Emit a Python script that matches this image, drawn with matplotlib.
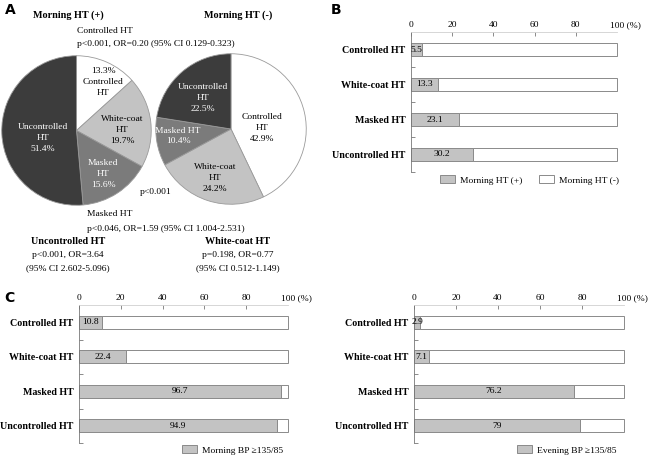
import matplotlib.pyplot as plt
from matplotlib.patches import Patch

plt.rcParams['font.family'] = ['Liberation Serif', 'DejaVu Serif']

W, H = 648, 458

# panel A data
pie_labels_pos = ['13.3%\nControlled\nHT', 'White-coat\nHT\n19.7%', 'Masked\nHT\n15.6%', 'Uncontrolled\nHT\n51.4%']
pie_vals_pos = [13.3, 19.7, 15.6, 51.4]
pie_labels_neg = ['Controlled\nHT\n42.9%', 'White-coat\nHT\n24.2%', 'Masked HT\n10.4%', 'Uncontrolled\nHT\n22.5%']
pie_vals_neg = [42.9, 24.2, 10.4, 22.5]
pie_colors = ['white', '#c3c3c3', '#7b7b7b', '#3c3c3c']
pie_text_colors = ['black', 'black', 'white', 'white']

# bar data
groups = ['Controlled HT', 'White-coat HT', 'Masked HT', 'Uncontrolled HT']
morning_ht_pos = [5.5, 13.3, 23.1, 30.2]
morning_bp = [10.8, 22.4, 96.7, 94.9]
evening_bp = [2.9, 7.1, 76.2, 79]
val_labels_b = ['5.5', '13.3', '23.1', '30.2']
val_labels_cm = ['10.8', '22.4', '96.7', '94.9']
val_labels_ce = ['2.9', '7.1', '76.2', '79']
ticks = [0, 20, 40, 60, 80]

fig = plt.figure(figsize=(W / 100, H / 100), dpi=100)


def rect(x0, y0, x1, y1):
    return [x0 / W, 1 - y1 / H, (x1 - x0) / W, (y1 - y0) / H]


def ftext(x, y, s, **kw):
    kw.setdefault('fontsize', 6.8)
    kw.setdefault('ha', 'center')
    kw.setdefault('va', 'center')
    fig.text(x / W, 1 - y / H, s, **kw)


# --- pies ---
def draw_pie(box, vals, labels, label_xy):
    ax = fig.add_axes(box)
    ax.pie(vals, colors=pie_colors, startangle=90, counterclock=False,
           wedgeprops=dict(edgecolor='#9a9a9a', linewidth=0.6))
    ax.set_xlim(-1.01, 1.01)
    ax.set_ylim(-1.01, 1.01)
    ax.set_aspect('equal')
    for lab, (x, y), c in zip(labels, label_xy, pie_text_colors):
        ftext(x, y, lab, color=c, linespacing=1.45)


draw_pie(rect(1, 55, 152, 206), pie_vals_pos, pie_labels_pos,
         [(103, 82), (122, 130), (103, 174), (43, 138)])
draw_pie(rect(155, 53, 307, 205), pie_vals_neg, pie_labels_neg,
         [(262, 128), (215, 178), (178, 136), (203, 98)])

ftext(68, 15, 'Morning HT (+)', fontweight='bold', fontsize=7.3)
ftext(238, 15, 'Morning HT (-)', fontweight='bold', fontsize=7.3)
ftext(77, 31, 'Controlled HT', ha='left')
ftext(77, 44, 'p<0.001, OR=0.20 (95% CI 0.129-0.323)', ha='left')
ftext(140, 192, 'p<0.001', ha='left')
ftext(87, 214, 'Masked HT', ha='left')
ftext(87, 229, 'p<0.046, OR=1.59 (95% CI 1.004-2.531)', ha='left')
ftext(68, 242, 'Uncontrolled HT', fontweight='bold', fontsize=7.3)
ftext(68, 255, 'p<0.001, OR=3.64')
ftext(68, 268, '(95% CI 2.602-5.096)')
ftext(238, 242, 'White-coat HT', fontweight='bold', fontsize=7.3)
ftext(238, 255, 'p=0.198, OR=0.77')
ftext(238, 268, '(95% CI 0.512-1.149)')

# panel letters
for s, x, y in [('A', 10, 10), ('B', 336, 10), ('C', 9, 298)]:
    ftext(x, y, s, fontweight='bold', fontsize=10, family='DejaVu Sans')


# --- bars ---
def draw_bars(box, vals, labels, legend_items, legend_x, legend_y):
    ax = fig.add_axes(box)
    ypos = list(range(len(groups)))
    rest = [100 - v for v in vals]
    ax.barh(ypos, vals, height=0.38, color='#c3c3c3', edgecolor='#8a8a8a', linewidth=0.7, clip_on=False)
    ax.barh(ypos, rest, left=vals, height=0.38, color='white', edgecolor='#8a8a8a', linewidth=0.7, clip_on=False)
    for y, v, lab in zip(ypos, vals, labels):
        ax.text(v / 2, y, lab, ha='center', va='center', fontsize=6.8)
    ax.set_xlim(0, 100)
    ax.set_ylim(3.5, -0.5)
    ax.set_yticks(ypos)
    ax.set_yticklabels(groups, fontweight='bold', fontsize=7.2)
    ax.set_yticks([0.5, 1.5, 2.5, 3.5], minor=True)
    ax.tick_params(axis='y', which='major', length=0, pad=4)
    ax.tick_params(axis='y', which='minor', length=3, direction='in', color='#777777', width=0.6)
    ax.xaxis.tick_top()
    ax.set_xticks(ticks)
    ax.set_xticklabels([str(t) for t in ticks], fontsize=6.8)
    ax.tick_params(axis='x', length=3, direction='in', color='#777777', width=0.6, pad=2)
    ax.annotate('100 (%)', xy=(100, 1.0), xycoords=ax.get_xaxis_transform(),
                xytext=(-5, 2), textcoords='offset points', ha='left', va='bottom', fontsize=6.8)
    for k in ['right', 'bottom']:
        ax.spines[k].set_visible(False)
    ax.spines['top'].set_color('#d0d0d0')
    ax.spines['top'].set_linewidth(0.6)
    ax.spines['left'].set_color('#777777')
    ax.spines['left'].set_linewidth(0.6)
    handles = [Patch(facecolor='#c3c3c3', edgecolor='#8a8a8a', linewidth=0.7),
               Patch(facecolor='white', edgecolor='#8a8a8a', linewidth=0.7)][:len(legend_items)]
    fig.legend(handles, legend_items, loc='center left', bbox_to_anchor=(legend_x / W, 1 - legend_y / H),
               ncol=2, frameon=False, fontsize=6.8, handlelength=1.6, handleheight=0.9,
               columnspacing=1.8, handletextpad=0.5, borderaxespad=0, borderpad=0)
    return ax


draw_bars(rect(411, 32, 617, 172), morning_ht_pos, val_labels_b,
          ['Morning HT (+)', 'Morning HT (-)'], 440, 180)
draw_bars(rect(79, 305, 288, 443), morning_bp, val_labels_cm, ['Morning BP \u2265135/85'], 182, 450)
draw_bars(rect(414, 305, 624, 443), evening_bp, val_labels_ce, ['Evening BP \u2265135/85'], 517, 450)

fig.savefig('out.png', dpi=100)
